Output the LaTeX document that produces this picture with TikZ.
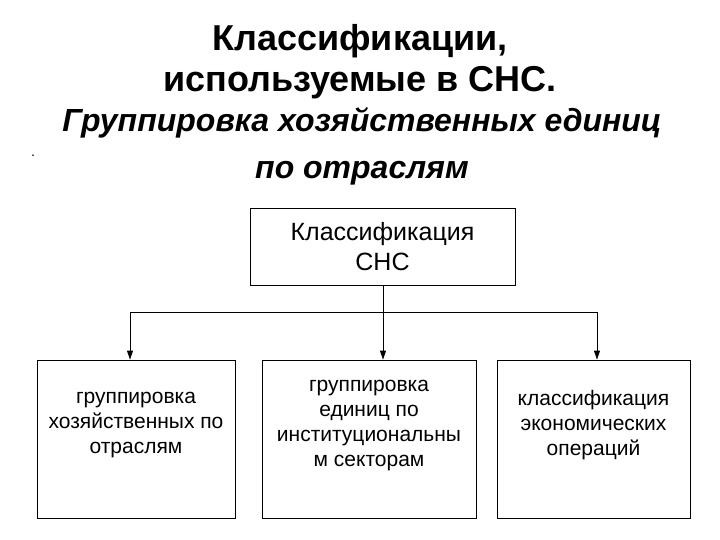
\documentclass[tikz,border=0pt]{standalone}
\usepackage{fontspec}
\setmainfont{Liberation Sans}
\usetikzlibrary{arrows.meta}
\begin{document}
\begin{tikzpicture}[x=1pt,y=-1pt,
  box/.style={draw,line width=0.8pt,align=center,inner sep=2pt},
  lbl/.style={font=\fontsize{21}{25}\selectfont,align=center},
  conn/.style={line width=0.8pt},
  arr/.style={line width=0.8pt,-{Triangle[length=9pt,width=6pt]}}]
\useasboundingbox (0,0) rectangle (720,540);
\node[font=\fontsize{36}{41}\selectfont\bfseries,align=center] (title) at (360,62) {Классификации,\\используемые в СНС.};
\node[font=\fontsize{32}{47}\selectfont\bfseries\itshape,align=center] (sub) at (362,146) {Группировка хозяйственных единиц\\по отраслям};
\node[font=\fontsize{14}{14}\selectfont] (dot) at (33,156) {.};
\node[box,minimum width=265pt,minimum height=77pt,font=\fontsize{25}{30}\selectfont] (top) at (382.5,246.5) {Классификация\\СНС};
\node[box,minimum width=198pt,minimum height=158pt] (b1) at (136,439) {};
\node[box,minimum width=214pt,minimum height=158pt] (b2) at (369,439) {};
\node[box,minimum width=193pt,minimum height=158pt] (b3) at (593.5,439) {};
\node[lbl] (t1) at (136,425) {группировка\\хозяйственных по\\отраслям};
\node[lbl] (t2) at (369,426) {группировка\\единиц по\\институциональны\\м секторам};
\node[lbl] (t3) at (593.5,425) {классификация\\экономических\\операций};
\coordinate (j) at (383,312);
\coordinate (jl) at (130,312);
\coordinate (jr) at (597,312);
\draw[conn] (top.south -| j) -- (j);
\draw[conn] (jl) -- (jr);
\draw[arr] (jl) -- (jl |- b1.north);
\draw[arr] (j) -- (j |- b2.north);
\draw[arr] (jr) -- (jr |- b3.north);
\end{tikzpicture}
\end{document}
